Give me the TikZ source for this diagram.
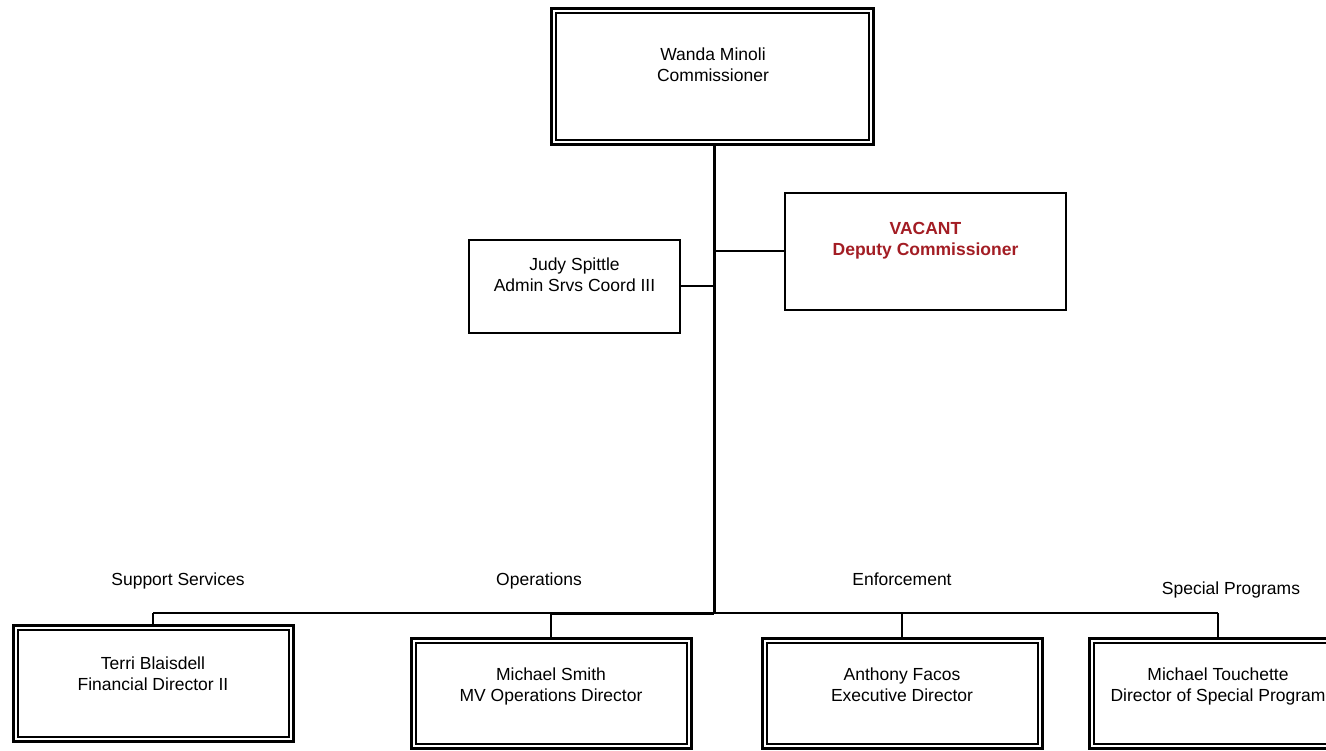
\documentclass[tikz,border=0pt]{standalone}
\usepackage{fontspec}
\setmainfont{Liberation Sans}
\definecolor{vacred}{HTML}{A31D24}
\begin{document}
\begin{tikzpicture}[x=1pt,y=-1pt,
  dbox/.style={draw, line width=3pt, outer sep=0pt, inner sep=0pt},
  dinner/.style={line width=1.5pt},
  sbox/.style={draw, line width=1.8pt, inner sep=0pt},
  txt/.style={align=center, inner sep=0pt, anchor=north, font=\fontsize{17.5}{21}\selectfont},
  lbl/.style={inner sep=0pt, anchor=north, font=\fontsize{17.5}{21}\selectfont},
  conn/.style={line width=2pt},
  trunk/.style={line width=3pt}]
\useasboundingbox (0,0) rectangle (1326,751);
\clip (0,0) rectangle (1326,751);
\fill[white] (0,0) rectangle (1326,751);

% boxes
\node[dbox, minimum width=322pt, minimum height=136pt] (wanda) at (712.5,76.5) {};
\node[sbox, minimum width=211pt, minimum height=93pt] (judy) at (574.5,286.5) {};
\node[sbox, minimum width=281pt, minimum height=117pt] (vac) at (925.5,251.5) {};
\node[dbox, minimum width=280pt, minimum height=116pt] (terri) at (153.5,683.5) {};
\node[dbox, minimum width=280pt, minimum height=110pt] (smith) at (551.5,693.5) {};
\node[dbox, minimum width=280pt, minimum height=110pt] (facos) at (902.5,693.5) {};
\node[dbox, minimum width=280pt, minimum height=110pt] (touch) at (1229.5,693.5) {};
\foreach \n in {wanda,terri,smith,facos,touch}
  \draw[dinner] ([shift={(4.5,4.5)}]\n.north west) rectangle ([shift={(-4.5,-4.5)}]\n.south east);

% texts
\node[txt] (wandat) at (713,48) {Wanda Minoli\\Commissioner};
\node[txt] (judyt) at (574.5,258) {Judy Spittle\\Admin Srvs Coord III};
\node[txt, text=vacred, font=\fontsize{17.5}{21}\selectfont\bfseries] (vact) at (925.5,222) {VACANT\\Deputy Commissioner};
\node[txt] (territ) at (153,657) {Terri Blaisdell\\Financial Director II};
\node[txt] (smitht) at (551,668) {Michael Smith\\MV Operations Director};
\node[txt] (facost) at (902,668) {Anthony Facos\\Executive Director};
\node[txt] (toucht) at (1218,668) {Michael Touchette\\Director of Special Program};

% group labels
\node[lbl] (l1) at (178,573) {Support Services};
\node[lbl] (l2) at (539,573) {Operations};
\node[lbl] (l3) at (902,573) {Enforcement};
\node[lbl] (l4) at (1231,582) {Special Programs};

% connectors
\coordinate (bus) at (714,613);
\coordinate (busL) at (153,613);
\coordinate (busR) at (1218,613);
\draw[trunk] (wanda.south -| bus) -- (bus);
\draw[conn] (judy.east) -- (judy.east -| bus);
\draw[conn] (vac.west) -- (vac.west -| bus);
\draw[conn] (busL) -- (busR);
\draw[trunk] (smitht |- bus) -- (bus);
\draw[conn] (busL) -- (terri.north -| busL);
\draw[conn] (smitht |- bus) -- (smith.north -| smitht);
\draw[conn] (facost |- bus) -- (facos.north -| facost);
\draw[conn] (busR) -- (touch.north -| busR);
\end{tikzpicture}
\end{document}
